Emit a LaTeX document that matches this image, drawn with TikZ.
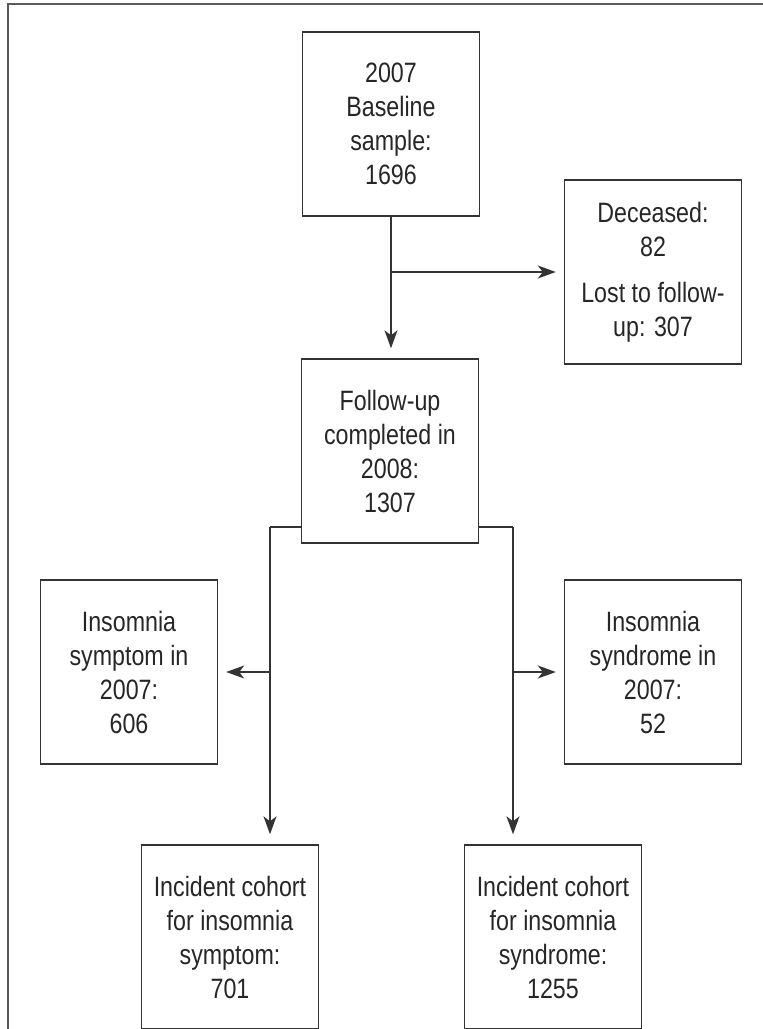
\documentclass[tikz,border=0pt]{standalone}
\usepackage{fontspec}
\setmainfont{Liberation Sans}[FakeStretch=0.83]
\usetikzlibrary{arrows.meta}

\begin{document}
\begin{tikzpicture}[x=1pt, y=-1pt,
    box/.style={draw=black!80, line width=1.4pt, align=center, inner sep=0pt,
        text=black!85, font=\fontsize{28}{34}\selectfont,
        minimum width=177pt, minimum height=184pt},
    link/.style={draw=black!80, line width=1.4pt},
    flow/.style={link, shorten >=8pt, -{Stealth[length=18pt,width=13pt,inset=5pt]}}]
    \useasboundingbox (0,0) rectangle (763,1029);
    % outer frame (right and bottom edges cut off)
    \draw[black!65, line width=1.8pt] (8,1040) -- (8,4) -- (770,4);
    % boxes
    \node[box] (base) at (391,124) {2007\\Baseline\\sample:\\1696};
    \node[box] (lost) at (653,272) {Deceased:\\82\\[12pt]Lost to follow-\\up: 307};
    \node[box] (fu) at (390,451) {Follow-up\\completed in\\2008:\\1307};
    \node[box] (sym) at (129,672) {Insomnia\\symptom in\\2007:\\606};
    \node[box] (syn) at (653,672) {Insomnia\\syndrome in\\2007:\\52};
    \node[box] (cohsym) at (230,937) {Incident cohort\\for insomnia\\symptom:\\701};
    \node[box] (cohsyn) at (553,937) {Incident cohort\\for insomnia\\syndrome:\\1255};
    % baseline to follow-up, losses to the side
    \draw[flow, shorten >=10pt] (base.south) -- (base.south |- fu.north);
    \coordinate (split) at (base.south |- lost.west);
    \draw[flow] (split) -- (lost.west);
    % two branches from follow-up
    \coordinate (jl) at (270,527);
    \coordinate (jr) at (513,527);
    \draw[link] (fu.west |- jl) -- (jl);
    \draw[link] (fu.east |- jr) -- (jr);
    \draw[flow, shorten >=10pt] (jl) -- (jl |- cohsym.north);
    \draw[flow, shorten >=10pt] (jr) -- (jr |- cohsyn.north);
    \draw[flow] (jl |- sym.east) -- (sym.east);
    \draw[flow] (jr |- syn.west) -- (syn.west);
\end{tikzpicture}
\end{document}
